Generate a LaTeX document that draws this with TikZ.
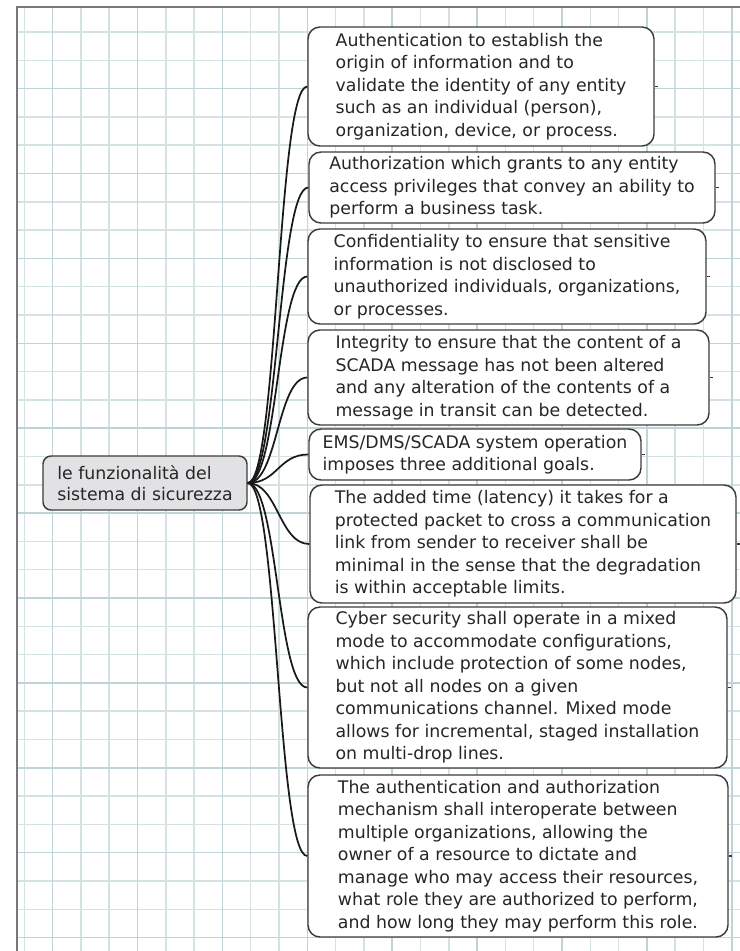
\documentclass[tikz,border=0pt]{standalone}
\usepackage{fontspec}
\setmainfont{DejaVu Sans}
\definecolor{gridline}{RGB}{212,226,228}
\definecolor{gridmajor}{RGB}{192,211,214}
\definecolor{frameline}{RGB}{120,120,120}
\definecolor{boxline}{RGB}{60,60,60}
\definecolor{rootfill}{RGB}{226,226,228}
\definecolor{textgray}{RGB}{38,38,38}
\tikzset{
  topic/.style={draw=boxline, line width=1.1pt, rounded corners=9pt, fill=white,
    align=left, inner sep=0pt, text=textgray, font=\fontsize{13}{16.9}\selectfont},
  central/.style={topic, fill=rootfill, rounded corners=6pt, font=\fontsize{13}{15.5}\selectfont},
  branch/.style={line width=1.3pt, black!90},
  stub/.style={line width=1pt, boxline}
}
\begin{document}
\begin{tikzpicture}[x=0.75pt, y=-0.75pt]
\useasboundingbox (0,0) rectangle (740,951);

% Paper grid
\foreach \k in {0,...,25} \draw[gridline, line width=1.1pt] (24.3+28.3*\k, 7) -- (24.3+28.3*\k, 951);
\foreach \k in {1,...,33} \draw[gridline, line width=1.1pt] (17, 3.7+28.3*\k) -- (740, 3.7+28.3*\k);
\foreach \k in {1,4,...,25} \draw[gridmajor, line width=1.1pt] (24.3+28.3*\k, 7) -- (24.3+28.3*\k, 951);
\foreach \k in {3,6,...,33} \draw[gridmajor, line width=1.1pt] (17, 3.7+28.3*\k) -- (740, 3.7+28.3*\k);
\draw[frameline, line width=1.5pt] (17,951) -- (17,7) -- (740,7);

% Central topic
\node[central, minimum width=153pt, minimum height=40.5pt] (root) at (145, 483)
  {le funzionalità del\\sistema di sicurezza};

% Sub topics
\node[topic, minimum width=259.5pt, minimum height=89.25pt] (auth) at (481, 86.5)
  {Authentication to establish the\\origin of information and to\\validate the identity of any entity\\such as an individual (person),\\organization, device, or process.};
\node[topic, minimum width=304.5pt, minimum height=53.25pt] (authz) at (512, 187.5)
  {Authorization which grants to any entity\\access privileges that convey an ability to\\perform a business task.};
\node[topic, minimum width=298.5pt, minimum height=71.25pt] (conf) at (507, 276.5)
  {Confidentiality to ensure that sensitive\\information is not disclosed to\\unauthorized individuals, organizations,\\or processes.};
\node[topic, minimum width=300.75pt, minimum height=71.25pt] (integ) at (508.5, 377.5)
  {Integrity to ensure that the content of a\\SCADA message has not been altered\\and any alteration of the contents of a\\message in transit can be detected.};
\node[topic, minimum width=249pt, minimum height=38.25pt] (ems) at (475, 454.5)
  {EMS/DMS/SCADA system operation\\imposes three additional goals.};
\node[topic, minimum width=319.5pt, minimum height=88.5pt] (latency) at (523, 544)
  {The added time (latency) it takes for a\\protected packet to cross a communication\\link from sender to receiver shall be\\minimal in the sense that the degradation\\is within acceptable limits.};
\node[topic, minimum width=314.25pt, minimum height=120.75pt] (mixed) at (517.5, 687.5)
  {Cyber security shall operate in a mixed\\mode to accommodate configurations,\\which include protection of some nodes,\\but not all nodes on a given\\communications channel. Mixed mode\\allows for incremental, staged installation\\on multi-drop lines.};
\node[topic, minimum width=315pt, minimum height=121.5pt] (interop) at (518, 856)
  {The authentication and authorization\\mechanism shall interoperate between\\multiple organizations, allowing the\\owner of a resource to dictate and\\manage who may access their resources,\\what role they are authorized to perform,\\and how long they may perform this role.};

% Branches
\draw[branch] (root.east) .. controls +(30,0) and +(-30,0) .. (auth.west);
\draw[branch] (root.east) .. controls +(30,0) and +(-30,0) .. (authz.west);
\draw[branch] (root.east) .. controls +(30,0) and +(-30,0) .. (conf.west);
\draw[branch] (root.east) .. controls +(30,0) and +(-30,0) .. (integ.west);
\draw[branch] (root.east) .. controls +(30,0) and +(-30,0) .. (ems.west);
\draw[branch] (root.east) .. controls +(30,0) and +(-30,0) .. (latency.west);
\draw[branch] (root.east) .. controls +(30,0) and +(-30,0) .. (mixed.west);
\draw[branch] (root.east) .. controls +(30,0) and +(-30,0) .. (interop.west);

% Collapse marks
\draw[stub] (auth.east) -- ++(3,0);
\draw[stub] (authz.east) -- ++(3,0);
\draw[stub] (conf.east) -- ++(3,0);
\draw[stub] (integ.east) -- ++(3,0);
\draw[stub] (ems.east) -- ++(3,0);
\draw[stub] (latency.east) -- ++(3,0);
\draw[stub] (mixed.east) -- ++(3,0);
\draw[stub] (interop.east) -- ++(3,0);
\end{tikzpicture}
\end{document}
